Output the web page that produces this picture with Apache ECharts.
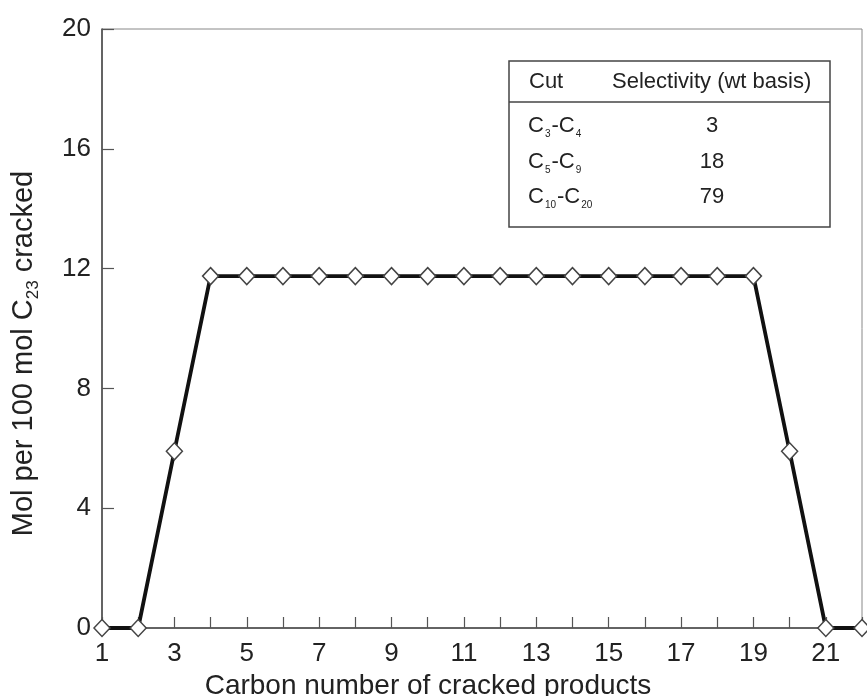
<!DOCTYPE html>
<html>
<head>
<meta charset="utf-8">
<script src="https://cdn.jsdelivr.net/npm/echarts@6/dist/echarts.min.js"></script>
<style>html,body{margin:0;padding:0;background:#fff}#c{width:867px;height:696px}</style>
</head>
<body>
<div id="c"></div>
<script>
// ---- data ----
var carbonNumbers = [1,2,3,4,5,6,7,8,9,10,11,12,13,14,15,16,17,18,19,20,21,22];
var molValues = [0,0,5.9,11.75,11.75,11.75,11.75,11.75,11.75,11.75,11.75,11.75,11.75,11.75,11.75,11.75,11.75,11.75,11.75,5.9,0,0];
var yTicks = [0,4,8,12,16,20];
var cutLabels = ['C{s|3}-C{s|4}', 'C{s|5}-C{s|9}', 'C{s|10}-C{s|20}'];
var selectivity = ['3', '18', '79'];
var tableHeader = ['Cut', 'Selectivity (wt basis)'];

var FONT = '"Liberation Sans", Arial, Helvetica, sans-serif';
var chart = echarts.init(document.getElementById('c'));

var seriesData = carbonNumbers.map(function (x, i) { return [x, molValues[i]]; });

// table graphic
var tLeft = 509, tTop = 61, tRight = 830, tBottom = 227, tDiv = 102;
var rowY = [126, 162, 197];
var tableEls = [
  { type: 'rect', shape: { x: tLeft, y: tTop, width: tRight - tLeft, height: tBottom - tTop },
    style: { fill: '#fff', stroke: '#444', lineWidth: 1.5 }, z: 10 },
  { type: 'line', shape: { x1: tLeft, y1: tDiv, x2: tRight, y2: tDiv },
    style: { stroke: '#444', lineWidth: 1.5 }, z: 11 },
  { type: 'text', x: 529, y: 82, z: 11,
    style: { text: tableHeader[0], font: '22px ' + FONT, fill: '#222', verticalAlign: 'middle' } },
  { type: 'text', x: 612, y: 82, z: 11,
    style: { text: tableHeader[1], font: '22px ' + FONT, fill: '#222', verticalAlign: 'middle' } }
];
cutLabels.forEach(function (lab, i) {
  tableEls.push({ type: 'text', x: 528, y: rowY[i], z: 11,
    style: { text: lab, font: '22px ' + FONT, fill: '#222', verticalAlign: 'middle',
      rich: { s: { fontSize: 10, fontFamily: FONT, fill: '#222', padding: [16, 1, 0, 1] } } } });
  tableEls.push({ type: 'text', x: 712, y: rowY[i], z: 11,
    style: { text: selectivity[i], font: '22px ' + FONT, fill: '#222', align: 'center', verticalAlign: 'middle' } });
});

chart.setOption({
  animation: false,
  backgroundColor: '#fff',
  grid: { left: 102, right: 5, top: 29, bottom: 68, show: true, borderColor: '#888', borderWidth: 1,
    backgroundColor: 'transparent', outerBoundsMode: 'none', containLabel: false },
  xAxis: {
    type: 'value', min: 1, max: 22, interval: 1,
    name: 'Carbon number of cracked products',
    nameLocation: 'middle', nameGap: 42,
    nameTextStyle: { fontFamily: FONT, fontSize: 28, color: '#222', padding: [0, 108, 0, 0] },
    axisLine: { lineStyle: { color: '#444', width: 1.5 } },
    axisTick: { inside: true, length: 11, lineStyle: { color: '#555', width: 1.2 } },
    axisLabel: { fontFamily: FONT, fontSize: 26, color: '#222', margin: 13,
      formatter: function (v) { return (v % 2 === 1) ? String(v) : ''; } },
    splitLine: { show: false }
  },
  yAxis: {
    type: 'value', min: 0, max: 20, interval: 4,
    name: 'Mol per 100 mol C{s|23} cracked',
    nameLocation: 'middle', nameGap: 60,
    nameTextStyle: { fontFamily: FONT, fontSize: 29, color: '#222', padding: [0, 50, 0, 0],
      rich: { s: { fontFamily: FONT, fontSize: 17, color: '#222', padding: [19, 0, 0, 0] } } },
    axisLine: { lineStyle: { color: '#444', width: 1.5 } },
    axisTick: { inside: true, length: 12, lineStyle: { color: '#555', width: 1.2 } },
    axisLabel: { fontFamily: FONT, fontSize: 26, color: '#222', margin: 11 },
    splitLine: { show: false }
  },
  series: [{
    type: 'line',
    data: seriesData,
    clip: false,
    symbol: 'diamond',
    symbolSize: [16, 17],
    lineStyle: { color: '#111', width: 3.8 },
    itemStyle: { color: '#fff', borderColor: '#444', borderWidth: 1.5 },
    z: 5
  }],
  graphic: tableEls
});
</script>
</body>
</html>
